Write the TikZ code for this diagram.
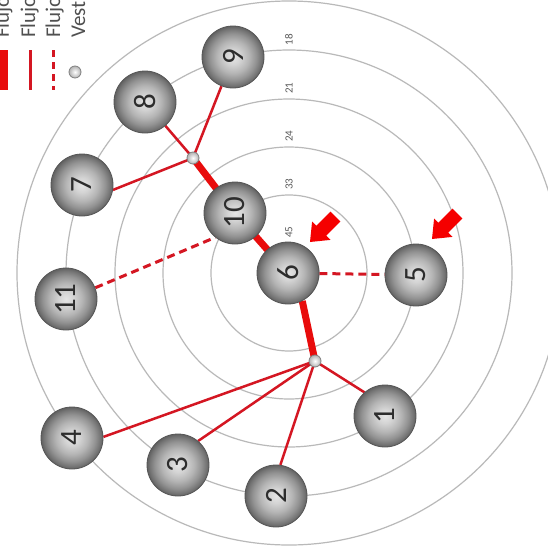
\documentclass[tikz,border=0pt]{standalone}
\usepackage{fontspec}
\setmainfont{Carlito}
\pgfdeclarelayer{bg}
\pgfsetlayers{bg,main}
\definecolor{ringgray}{RGB}{185,185,185}
\definecolor{lnred}{RGB}{212,22,34}
\definecolor{thkred}{RGB}{232,12,12}
\definecolor{arrowred}{RGB}{245,0,0}
\definecolor{numgray}{RGB}{45,45,45}
\definecolor{lblgray}{RGB}{90,90,90}
\definecolor{ballrim}{RGB}{85,85,85}
\definecolor{legtext}{RGB}{80,80,80}
\pgfdeclareradialshading{ball}{\pgfpoint{0bp}{0bp}}{color(0bp)=(black!10); color(6bp)=(black!17); color(13bp)=(black!29); color(19bp)=(black!43); color(23bp)=(black!55); color(25bp)=(black!62); color(50bp)=(black!62)}
\begin{document}
\begin{tikzpicture}[x=1pt,y=-1pt,
  ball/.style={circle, minimum size=62pt, inner sep=0pt, shading=ball, draw=ballrim, line width=0.8pt, text=numgray, font=\fontsize{31}{31}\selectfont},
  junc/.style={circle, minimum size=12pt, inner sep=0pt, inner color=white, outer color=black!30, draw=black!50, line width=0.8pt},
  ring/.style={draw=ringgray, line width=1.2pt},
  flowthin/.style={draw=lnred, line width=2.5pt},
  flowthick/.style={draw=thkred, line width=7pt},
  flowdash/.style={draw=lnred, line width=3pt, dash pattern=on 8pt off 5pt},
  ringlbl/.style={text=lblgray, font=\fontsize{11}{11}\selectfont, inner sep=0pt, rotate=90},
  legtxt/.style={text=legtext, font=\fontsize{21}{21}\selectfont, inner sep=0pt, rotate=90, anchor=base west},
  blockarrow/.pic={\fill[arrowred] (0,0) -- (20.5,-2.1) -- (16.3,-6.4) -- (30.4,-20.5) -- (20.5,-30.4) -- (6.4,-16.3) -- (2.1,-20.5) -- cycle;}
]
\useasboundingbox (0,0) rectangle (548,546);
\clip (0,0) rectangle (548,546);

% rings (background)
\coordinate (ctr) at (289,273);
\begin{pgfonlayer}{bg}
\fill[white] (0,0) rectangle (548,546);
\foreach \r in {30,78,126,174,223,272} \draw[ring] (ctr) circle[radius=\r];
\end{pgfonlayer}

% ring labels
\node[ringlbl] (l18) at (289,40) {18};
\node[ringlbl] (l21) at (289,88) {21};
\node[ringlbl] (l24) at (289,136) {24};
\node[ringlbl] (l33) at (289,184) {33};
\node[ringlbl] (l45) at (289,232) {45};

% nodes
\node[ball] (n9) at (233,57) {\rotatebox{90}{9}};
\node[ball] (n8) at (145,102) {\rotatebox{90}{8}};
\node[ball] (n7) at (82,185) {\rotatebox{90}{7}};
\node[ball] (n10) at (235,213) {\rotatebox{90}{10}};
\node[ball] (n11) at (66,299) {\rotatebox{90}{11}};
\node[ball] (n6) at (288,273) {\rotatebox{90}{6}};
\node[ball] (n5) at (416,275) {\rotatebox{90}{5}};
\node[ball] (n4) at (72,438) {\rotatebox{90}{4}};
\node[ball] (n3) at (178,465) {\rotatebox{90}{3}};
\node[ball] (n2) at (276,496) {\rotatebox{90}{2}};
\node[ball] (n1) at (385,416) {\rotatebox{90}{1}};
\node[junc] (A) at (193,158) {};
\node[junc] (B) at (315,361) {};

% connectors
\begin{pgfonlayer}{bg}
\draw[flowthin] (n9) -- (A.center);
\draw[flowthin] (n8) -- (A.center);
\draw[flowthin] (n7.-9) -- (A.center);
\draw[flowthick] (A.center) -- (n10.center);
\draw[flowthick] (n10.center) -- (n6.center);
\draw[flowthick] (n6.-63) -- (B.center);
\draw[flowthin] (B.center) -- (n4.2);
\draw[flowthin] (B.center) -- (n3.50);
\draw[flowthin] (B.center) -- (n2.82);
\draw[flowthin] (B.center) -- (n1.131);
\draw[flowdash] (n11.21) -- (n10.231);
\draw[flowdash] (n6) -- (n5);
\end{pgfonlayer}

% red block arrows
\pic at (310,242) {blockarrow};
\pic at (432,239) {blockarrow};

% legend
\node[legtxt] (t1) at (9,38) {Flujo};
\node[legtxt] (t2) at (35,38) {Flujo};
\node[legtxt] (t3) at (60,38) {Flujo};
\node[legtxt] (t4) at (85,38) {Vest};
\coordinate (s1a) at (4,50); \coordinate (s1b) at (4,90);
\coordinate (s2a) at (30,50); \coordinate (s2b) at (30,90);
\coordinate (s3a) at (53,50); \coordinate (s3b) at (53,90);
\draw[draw=thkred, line width=8pt] (s1a) -- (s1b);
\draw[draw=lnred, line width=3pt] (s2a) -- (s2b);
\draw[draw=lnred, line width=3pt, dash pattern=on 7pt off 5pt] (s3a) -- (s3b);
\node[junc] (legj) at (75,72) {};
\end{tikzpicture}
\end{document}
